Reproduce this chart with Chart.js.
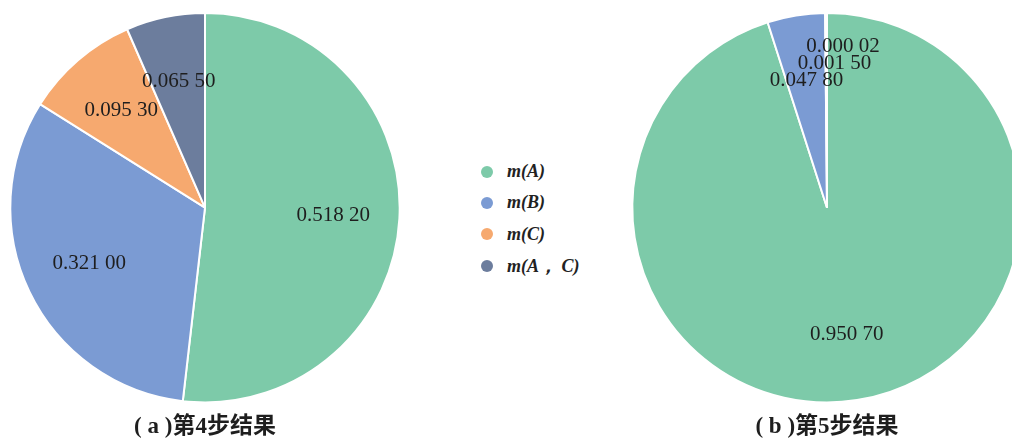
<!DOCTYPE html>
<html>
<head>
<meta charset="utf-8">
<script src="https://cdn.jsdelivr.net/npm/chart.js@4.4.1/dist/chart.umd.min.js"></script>
<style>
body { margin: 0; background: #fff; width: 1012px; height: 441px; overflow: hidden; position: relative; }
.box { position: absolute; top: 0; width: 410px; height: 441px; }
#legend { position: absolute; left: 478px; top: 156px; font-family: 'Liberation Serif', serif; font-style: italic; font-weight: bold; font-size: 18px; color: #222; }
#legend div { height: 31.3px; display: flex; align-items: center; }
#legend span.dot { display: inline-block; width: 12px; height: 12px; border-radius: 50%; margin-right: 14px; margin-left: 3px; }
</style>
</head>
<body>
<div class="box" style="left:0"><canvas id="pieA"></canvas></div>
<div class="box" style="left:622px"><canvas id="pieB"></canvas></div>
<div id="legend"></div>
<script>
var labels = ['m(A)', 'm(B)', 'm(C)', 'm(A\uFF0C C)'];
var step4 = [0.51820, 0.32100, 0.09530, 0.06550];
var step5 = [0.95070, 0.04780, 0.00150, 0.00002];
var step4Text = ['0.518 20', '0.321 00', '0.095 30', '0.065 50'];
var step5Text = ['0.950 70', '0.047 80', '0.001 50', '0.000 02'];
var colors = ['#7dcaa9', '#7b9bd3', '#f6a96f', '#6c7d9d'];

// legend
var lg = document.getElementById('legend');
labels.forEach(function (l, i) {
    var row = document.createElement('div');
    row.innerHTML = '<span class="dot" style="background:' + colors[i] + '"></span>' + l;
    lg.appendChild(row);
});

// values written inside the slices, pushed up when they collide
var sliceText = {
    id: 'sliceText',
    afterDatasetsDraw: function (chart, args, opts) {
        var c = chart.ctx;
        var meta = chart.getDatasetMeta(0);
        c.save();
        c.font = '21px "Liberation Serif", serif';
        c.fillStyle = '#1e1e1e';
        c.textAlign = 'center';
        c.textBaseline = 'middle';
        var placed = [];
        meta.data.forEach(function (arc, i) {
            var mid = (arc.startAngle + arc.endAngle) / 2;
            var r = arc.outerRadius * 0.66;
            var x = arc.x + Math.cos(mid) * r;
            var y = arc.y + Math.sin(mid) * r;
            var w = c.measureText(opts.text[i]).width;
            var moved = true;
            while (moved) {
                moved = false;
                placed.forEach(function (p) {
                    if (Math.abs(p.x - x) < (p.w + w) / 2 && Math.abs(p.y - y) < 16) {
                        y = p.y - 17;
                        x = x + 8;
                        moved = true;
                    }
                });
            }
            placed.push({x: x, y: y, w: w});
            c.fillText(opts.text[i], x, y);
        });
        c.restore();
    }
};

function makePie(id, values, text, title) {
    new Chart(document.getElementById(id), {
        type: 'pie',
        data: {
            labels: labels,
            datasets: [{
                data: values,
                backgroundColor: colors,
                borderColor: '#ffffff',
                borderWidth: 2
            }]
        },
        options: {
            responsive: true,
            maintainAspectRatio: false,
            animation: false,
            layout: { padding: { top: 12 } },
            plugins: {
                legend: { display: false },
                tooltip: { enabled: false },
                title: {
                    display: true,
                    position: 'bottom',
                    text: title,
                    color: '#1e1e1e',
                    font: { family: '"Liberation Serif", "Noto Sans CJK SC", serif', size: 23, weight: 'bold' },
                    padding: { top: 10, bottom: 0 }
                },
                sliceText: { text: text }
            }
        },
        plugins: [sliceText]
    });
}

makePie('pieA', step4, step4Text, '( a )\u7B2C4\u6B65\u7ED3\u679C');
makePie('pieB', step5, step5Text, '( b )\u7B2C5\u6B65\u7ED3\u679C');
</script>
</body>
</html>
